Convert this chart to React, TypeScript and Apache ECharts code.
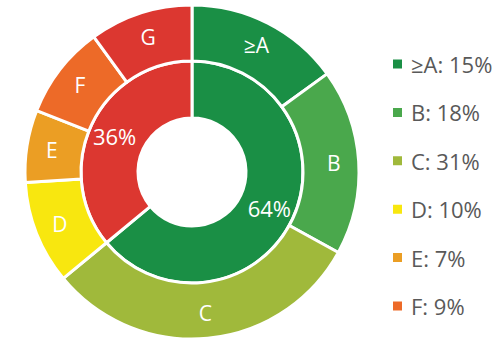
import React, { useEffect, useRef } from "react";
import * as echarts from "echarts";

const gradeNames = ["≥A", "B", "C", "D", "E", "F", "G"];
const gradeValues = [15, 18, 31, 10, 7, 9, 10];
const gradeColors = ["#1a8f45", "#4aa84c", "#a0b93b", "#f8e70f", "#eb9e24", "#ed6a28", "#dc3730"];
const legendNames = ["≥A", "B", "C", "D", "E", "F"];

const groupNames = ["pass", "fail"];
const groupValues = [64, 36];
const groupColors = ["#1a8f45", "#dc3730"];

const FONT = "Open Sans";

export default function App() {
  const ref = useRef<HTMLDivElement>(null);
  useEffect(() => {
    const chart = echarts.init(ref.current!, null, { renderer: "svg" });
    const valueMap: Record<string, number> = {};
    gradeNames.forEach((n, i) => (valueMap[n] = gradeValues[i]));
    chart.setOption({
      animation: false,
      legend: {
        orient: "vertical",
        left: 386,
        top: 48,
        data: legendNames,
        icon: "rect",
        itemWidth: 11,
        itemHeight: 11,
        itemGap: 26.4,
        selectedMode: false,
        formatter: (n: string) => `${n}: ${valueMap[n]}%`,
        textStyle: { fontFamily: FONT, fontSize: 22, color: "#595959", lineHeight: 22, padding: [0, 0, 0, 3] },
      },
      series: [
        {
          type: "pie",
          center: [192, 172],
          radius: [54, 111],
          startAngle: 90,
          clockwise: true,
          label: {
            show: true,
            position: "inside",
            formatter: "{c}%",
            color: "#fff",
            fontFamily: FONT,
            fontSize: 22,
          },
          labelLine: { show: false },
          itemStyle: { borderColor: "#fff", borderWidth: 3 },
          emphasis: { disabled: true },
          data: groupNames.map((n, i) => ({ name: n, value: groupValues[i], itemStyle: { color: groupColors[i] } })),
        },
        {
          type: "pie",
          center: [192, 172],
          radius: [111, 167],
          startAngle: 90,
          clockwise: true,
          label: {
            show: true,
            position: "inside",
            formatter: "{b}",
            color: "#fff",
            fontFamily: FONT,
            fontSize: 21,
          },
          labelLine: { show: false },
          itemStyle: { borderColor: "#fff", borderWidth: 3 },
          emphasis: { disabled: true },
          data: gradeNames.map((n, i) => ({ name: n, value: gradeValues[i], itemStyle: { color: gradeColors[i] } })),
        },
      ],
    });
    return () => chart.dispose();
  }, []);
  return <div ref={ref} style={{ width: 500, height: 341, position: "absolute", left: 0, top: 0 }} />;
}
